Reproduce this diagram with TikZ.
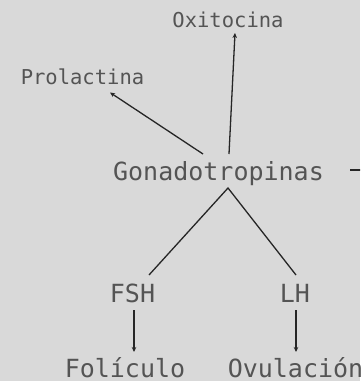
\documentclass[tikz,border=0pt]{standalone}
\usepackage{fontspec}
\setmonofont{DejaVu Sans Mono}
\usetikzlibrary{arrows.meta}
\definecolor{bg}{HTML}{D9D9D9}
\definecolor{txt}{HTML}{545454}
\begin{document}
\begin{tikzpicture}[x=1pt,y=-1pt,
  big/.style={inner sep=0pt,anchor=base,text=txt,font=\ttfamily\fontsize{25}{25}\selectfont},
  small/.style={inner sep=0pt,anchor=base,text=txt,font=\ttfamily\fontsize{20.5}{20.5}\selectfont},
  conn/.style={line width=1.3pt,draw=black!85},
  arr/.style={conn,-{Stealth[length=5pt,width=4.5pt]}}]
\fill[bg] (0,0) rectangle (360,381);
\useasboundingbox (0,0) rectangle (360,381);
\begin{scope}
\clip (0,0) rectangle (360,381);
\node[small] (oxi) at (228,27) {Oxitocina};
\node[small] (prol) at (82.5,84) {Prolactina};
\node[big] (g) at (218.5,180) {Gonadotropinas};
\node[big] (fsh) at (132.5,302) {FSH};
\node[big] (lh) at (295,302) {LH};
\node[big] (fol) at (125,377) {Folículo};
\node[big] (ovu) at (295.5,377) {Ovulación};
\coordinate (rend) at (362,170);
\draw[arr] ([shift={(10.5,-26)}]g.base) -- ([shift={(7,6)}]oxi.base);
\draw[arr] ([shift={(-15.5,-26)}]g.base) -- ([shift={(27.5,8.5)}]prol.base);
\draw[conn] ([shift={(16.5,-27)}]fsh.base) -- ([shift={(9.5,8)}]g.base) -- ([shift={(1,-27)}]lh.base);
\draw[arr] ([shift={(1.5,8)}]fsh.base) -- ([shift={(9,-25)}]fol.base);
\draw[arr] ([shift={(1,8)}]lh.base) -- ([shift={(0.5,-25)}]ovu.base);
\draw[conn] ([shift={(131.5,-10)}]g.base) -- (rend);
\end{scope}
\end{tikzpicture}
\end{document}
